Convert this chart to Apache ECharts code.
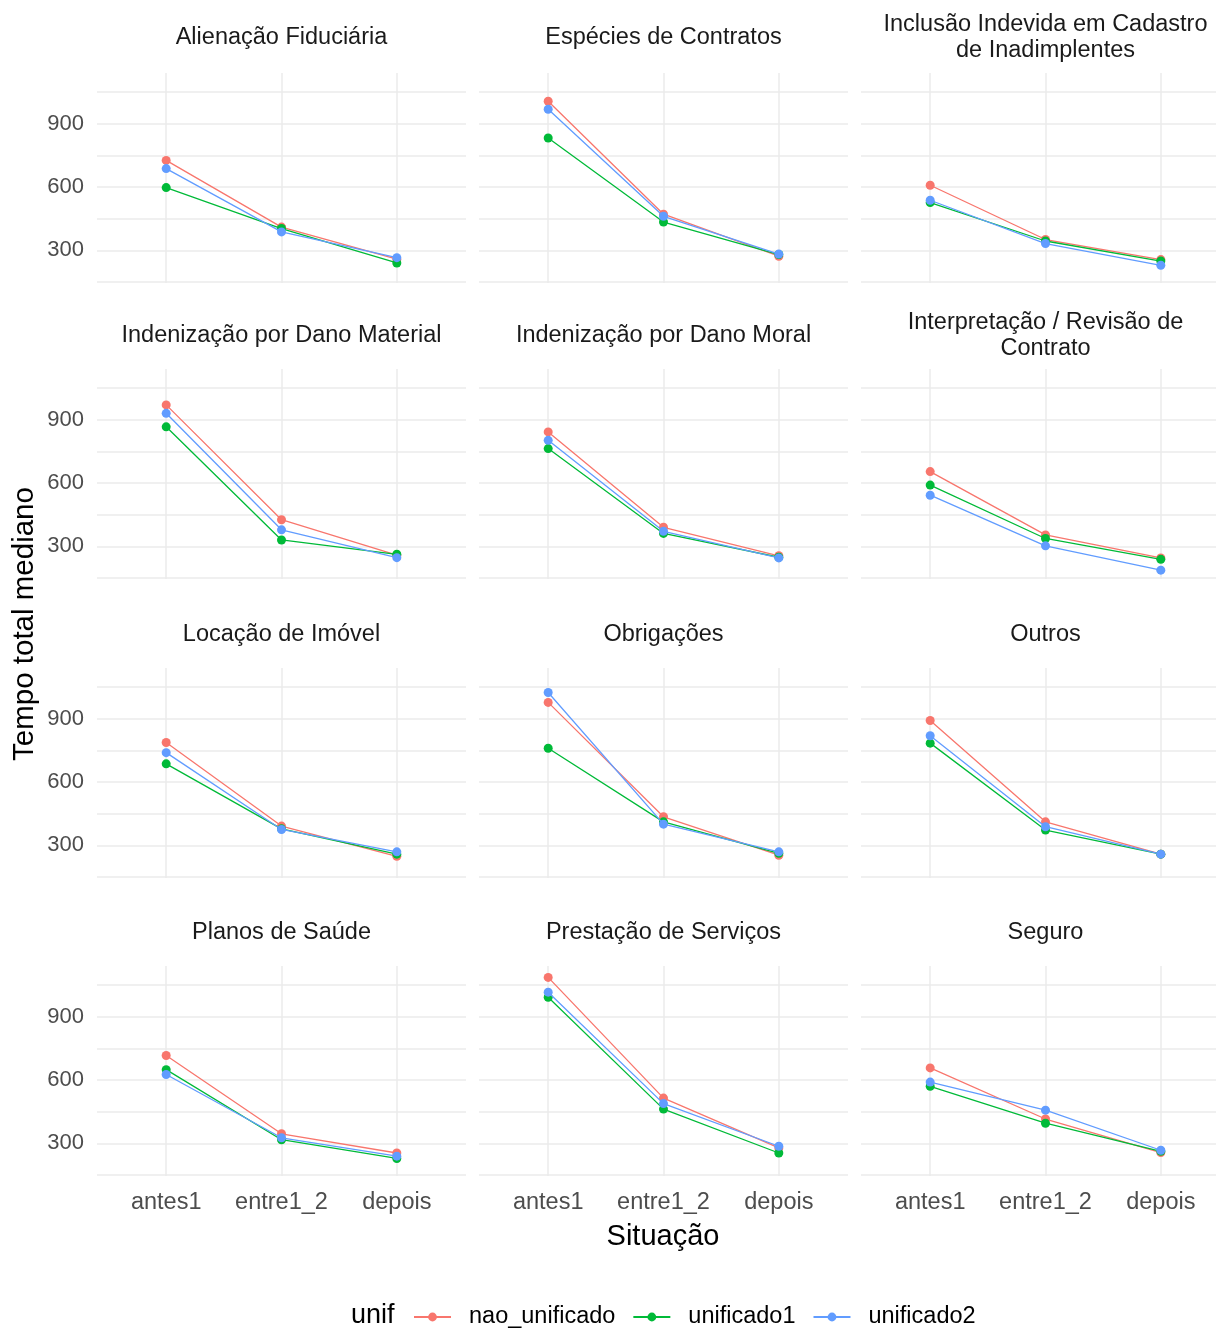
<!DOCTYPE html>
<html>
<head>
<meta charset="utf-8">
<script src="https://cdn.jsdelivr.net/npm/echarts@6/dist/echarts.min.js"></script>
<style>
html,body{margin:0;padding:0;background:#fff;}
#chart{width:1216px;height:1331px;}
</style>
</head>
<body>
<div id="chart"></div>
<script>
// ---- data ----
const categories = ["antes1", "entre1_2", "depois"];
const panels = [
  "Alienação Fiduciária", "Espécies de Contratos", "Inclusão Indevida em Cadastro\nde Inadimplentes",
  "Indenização por Dano Material", "Indenização por Dano Moral", "Interpretação / Revisão de\nContrato",
  "Locação de Imóvel", "Obrigações", "Outros",
  "Planos de Saúde", "Prestação de Serviços", "Seguro"
];
const seriesNames = ["nao_unificado", "unificado1", "unificado2"];
const naoUnificado = [
  [726, 410, 258], [1006, 471, 272], [608, 351, 256],
  [970, 426, 258], [842, 390, 255], [654, 354, 245],
  [787, 391, 248], [977, 435, 253], [891, 411, 258],
  [716, 345, 254], [1086, 514, 278], [657, 415, 256]
];
const unificado1 = [
  [597, 403, 240], [832, 434, 280], [526, 344, 249],
  [866, 330, 262], [763, 361, 248], [590, 337, 238],
  [686, 378, 258], [760, 411, 262], [784, 372, 258],
  [649, 317, 228], [992, 462, 254], [570, 395, 262]
];
const unificado2 = [
  [687, 387, 265], [968, 461, 282], [537, 332, 229],
  [930, 378, 246], [802, 371, 245], [542, 302, 187],
  [739, 375, 269], [1024, 400, 269], [819, 388, 258],
  [626, 326, 239], [1016, 488, 286], [590, 457, 267]
];
const yGridValues = [150, 300, 450, 600, 750, 900, 1050];
const yLabelValues = [300, 600, 900];
const xTitle = "Situação";
const yTitle = "Tempo total mediano";
const legendTitle = "unif";

// ---- layout / style ----
const colors = ["#F8766D", "#00BA38", "#619CFF"];
const seriesValues = [naoUnificado, unificado1, unificado2];
const colLeft = [97, 479, 861];
const rowTop = [73, 369, 668, 966];
const stripY = [37.5, 336, 634.5, 932.5];
const PW = 369, PH = 210;
const CANVAS_W = 1216;
const X_MIN = 0.4, X_SPAN = 3.2;
const FONT = "'Liberation Sans', Arial, sans-serif";
const gridColor = "#EBEBEB";

const grids = [], xAxes = [], yAxes = [], series = [], graphics = [];
panels.forEach((name, p) => {
  const r = Math.floor(p / 3), c = p % 3;
  // the rightmost column runs past the picture edge: clip the grid, keep the scale
  const w = Math.min(PW, CANVAS_W - colLeft[c]);
  const xMax = X_MIN + X_SPAN * w / PW;
  grids.push({left: colLeft[c], top: rowTop[r], width: w, height: PH, containLabel: false});
  xAxes.push({
    type: 'value', gridIndex: p, min: X_MIN, max: xMax,
    axisLine: {show: false},
    axisTick: {show: false, customValues: [1, 2, 3]},
    axisLabel: {
      show: r === 3, customValues: [1, 2, 3], margin: 15,
      formatter: v => categories[Math.round(v) - 1] || '',
      color: '#4D4D4D', fontSize: 23.5, fontFamily: FONT
    },
    splitLine: {show: true, lineStyle: {color: gridColor, width: 1.5}}
  });
  yAxes.push({
    type: 'value', gridIndex: p, min: 145, max: 1140,
    axisLine: {show: false},
    axisTick: {show: false, customValues: yGridValues},
    axisLabel: {
      show: c === 0, customValues: yLabelValues, margin: 13,
      color: '#4D4D4D', fontSize: 22, fontFamily: FONT, padding: [5, 0, 0, 0]
    },
    splitLine: {show: true, lineStyle: {color: gridColor, width: 1.5}}
  });
  seriesNames.forEach((sn, s) => {
    series.push({
      type: 'line', name: sn, xAxisIndex: p, yAxisIndex: p,
      data: seriesValues[s][p].map((v, i) => [i + 1, v]),
      symbol: 'circle', symbolSize: 9,
      itemStyle: {color: colors[s]},
      lineStyle: {color: colors[s], width: 1.3},
      emphasis: {disabled: true},
      animation: false, z: 2 + s
    });
  });
  graphics.push({
    type: 'text', x: colLeft[c] + PW / 2, y: stripY[r],
    style: {text: name, fill: '#1A1A1A', font: '23.5px ' + FONT,
      textAlign: 'center', textVerticalAlign: 'middle', lineHeight: 26}
  });
});

graphics.push({
  type: 'text', x: 663, y: 1237,
  style: {text: xTitle, fill: '#000', font: '29px ' + FONT, textAlign: 'center', textVerticalAlign: 'middle'}
});
graphics.push({
  type: 'text', x: 25, y: 624, rotation: Math.PI / 2,
  style: {text: yTitle, fill: '#000', font: '29.5px ' + FONT, textAlign: 'center', textVerticalAlign: 'middle'}
});
graphics.push({
  type: 'text', x: 351, y: 1316,
  style: {text: legendTitle, fill: '#000', font: '27px ' + FONT, textAlign: 'left', textVerticalAlign: 'middle'}
});

const chart = echarts.init(document.getElementById('chart'), null, {renderer: 'canvas'});
chart.setOption({
  backgroundColor: '#fff',
  animation: false,
  grid: grids, xAxis: xAxes, yAxis: yAxes, series: series,
  legend: {
    data: seriesNames, left: 413, top: 1303, padding: 0,
    itemWidth: 37, itemHeight: 11, itemGap: 17,
    textStyle: {color: '#000', fontSize: 23.5, fontFamily: FONT, lineHeight: 28, padding: [0, 0, 0, 13]},
    selectedMode: false
  },
  graphic: graphics
});
</script>
</body>
</html>
